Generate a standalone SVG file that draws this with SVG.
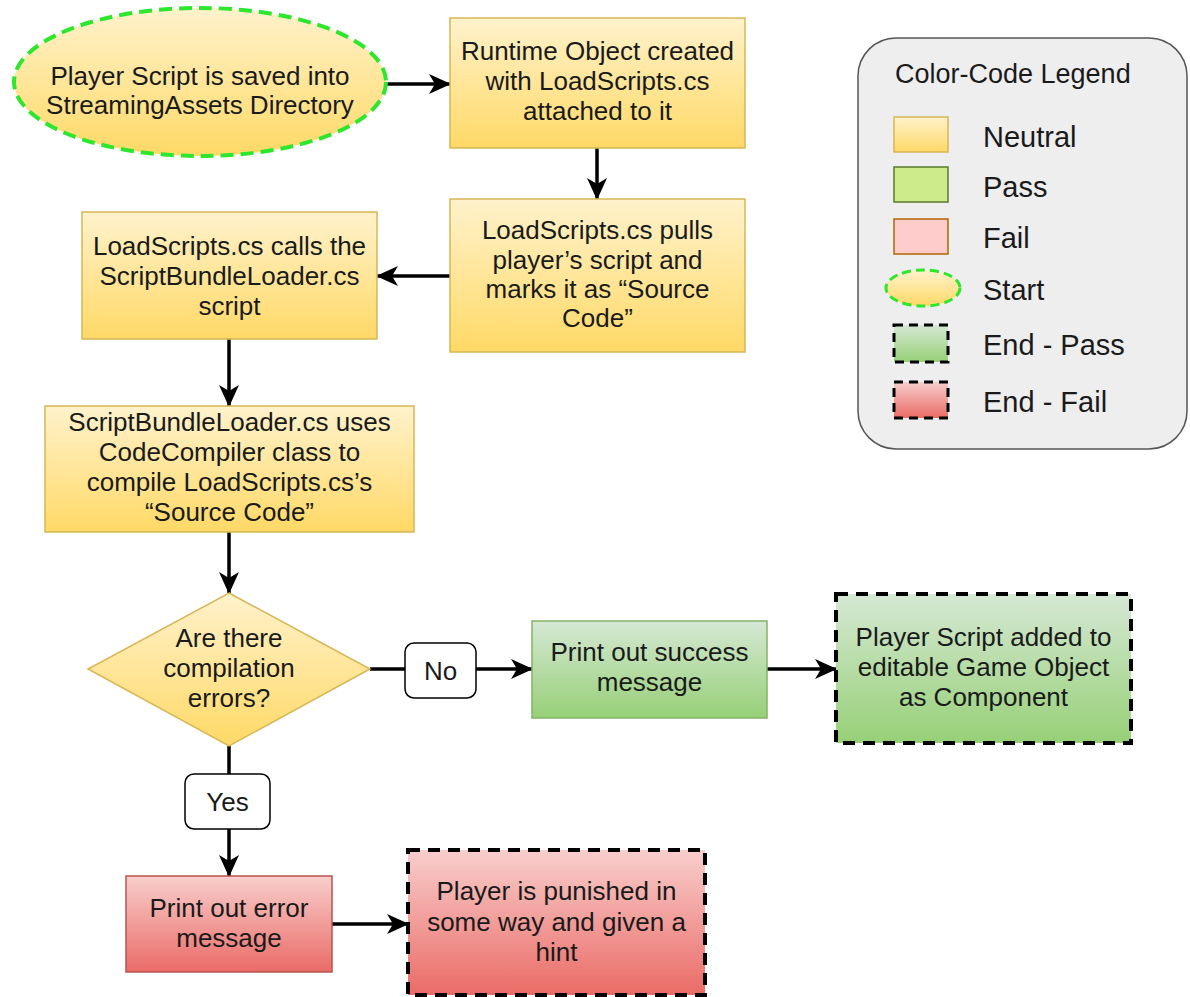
<svg xmlns="http://www.w3.org/2000/svg" width="1190" height="997" viewBox="0 0 1190 997">
  <defs>
    <linearGradient id="gNeutral" x1="0" y1="0" x2="0" y2="1">
      <stop offset="0" stop-color="#fff2cc"/>
      <stop offset="1" stop-color="#ffd966"/>
    </linearGradient>
    <linearGradient id="gPass" x1="0" y1="0" x2="0" y2="1">
      <stop offset="0" stop-color="#d5e8d4"/>
      <stop offset="1" stop-color="#97d077"/>
    </linearGradient>
    <linearGradient id="gFail" x1="0" y1="0" x2="0" y2="1">
      <stop offset="0" stop-color="#f8cecc"/>
      <stop offset="1" stop-color="#ea6b66"/>
    </linearGradient>
    <marker id="arrow" markerUnits="userSpaceOnUse" markerWidth="22" markerHeight="22" viewBox="0 0 22 22" refX="21" refY="11" orient="auto">
      <path d="M0,1 L22,11 L0,21 L6,11 Z" fill="#000"/>
    </marker>
    <style>
      text { font-family: "Liberation Sans", Arial, sans-serif; font-size: 26px; fill: #1a1a1a; text-anchor: middle; }
      .neutral { fill: url(#gNeutral); stroke: #d6b656; stroke-width: 1.5; }
      .pass { fill: url(#gPass); stroke: #82b366; stroke-width: 1.5; }
      .fail { fill: url(#gFail); stroke: #b85450; stroke-width: 1.5; }
      .endline { fill: none; stroke: #000; stroke-width: 4; stroke-dasharray: 12 8; }
      .start { stroke: #2ee62e; stroke-width: 4; stroke-dasharray: 13 7; }
      .label { fill: #fff; stroke: #000; stroke-width: 1.5; }
      .conn { fill: none; stroke: #000; stroke-width: 3.5; }
      .legend text { text-anchor: start; }
    </style>
  </defs>

  <!-- connectors -->
  <g id="connectors">
    <line class="conn" x1="386" y1="84" x2="450" y2="84" marker-end="url(#arrow)"/>
    <line class="conn" x1="597" y1="148" x2="597" y2="199" marker-end="url(#arrow)"/>
    <line class="conn" x1="450" y1="276" x2="377" y2="276" marker-end="url(#arrow)"/>
    <line class="conn" x1="229" y1="339" x2="229" y2="406" marker-end="url(#arrow)"/>
    <line class="conn" x1="229" y1="532" x2="229" y2="593" marker-end="url(#arrow)"/>
    <line class="conn" x1="370" y1="669" x2="405" y2="669"/>
    <line class="conn" x1="476" y1="669" x2="532" y2="669" marker-end="url(#arrow)"/>
    <line class="conn" x1="767" y1="669" x2="836" y2="669" marker-end="url(#arrow)"/>
    <line class="conn" x1="229" y1="746" x2="229" y2="774"/>
    <line class="conn" x1="229" y1="829" x2="229" y2="876" marker-end="url(#arrow)"/>
    <line class="conn" x1="332" y1="924" x2="408" y2="924" marker-end="url(#arrow)"/>
  </g>

  <!-- start -->
  <g id="start">
    <ellipse cx="200" cy="82" rx="186" ry="74" fill="url(#gNeutral)" class="start"/>
    <text x="200" y="85">Player Script is saved into</text>
    <text x="200" y="114">StreamingAssets Directory</text>
  </g>

  <g id="runtime-object">
    <rect class="neutral" x="450" y="18" width="295" height="130"/>
    <text x="597.5" y="60">Runtime Object created</text>
    <text x="597.5" y="90">with LoadScripts.cs</text>
    <text x="597.5" y="120">attached to it</text>
  </g>

  <g id="pull-script">
    <rect class="neutral" x="450" y="199" width="295" height="153"/>
    <text x="597.5" y="239">LoadScripts.cs pulls</text>
    <text x="597.5" y="269">player’s script and</text>
    <text x="597.5" y="298">marks it as “Source</text>
    <text x="597.5" y="327">Code”</text>
  </g>

  <g id="call-loader">
    <rect class="neutral" x="82" y="212" width="295" height="127"/>
    <text x="229.5" y="255">LoadScripts.cs calls the</text>
    <text x="229.5" y="285">ScriptBundleLoader.cs</text>
    <text x="229.5" y="315">script</text>
  </g>

  <g id="compile">
    <rect class="neutral" x="45" y="406" width="369" height="126"/>
    <text x="229.5" y="431">ScriptBundleLoader.cs uses</text>
    <text x="229.5" y="461">CodeCompiler class to</text>
    <text x="229.5" y="491">compile LoadScripts.cs’s</text>
    <text x="229.5" y="521">“Source Code”</text>
  </g>

  <g id="decision">
    <polygon class="neutral" points="229,593 370,669 229,746 88,669"/>
    <text x="229" y="647">Are there</text>
    <text x="229" y="677">compilation</text>
    <text x="229" y="707">errors?</text>
  </g>

  <g id="label-no">
    <rect class="label" x="405" y="643" width="71" height="55" rx="9"/>
    <text x="440.5" y="680">No</text>
  </g>

  <g id="label-yes">
    <rect class="label" x="185" y="774" width="85" height="55" rx="9"/>
    <text x="227.5" y="811">Yes</text>
  </g>

  <g id="success">
    <rect class="pass" x="532" y="621" width="235" height="97"/>
    <text x="649.5" y="661">Print out success</text>
    <text x="649.5" y="691">message</text>
  </g>

  <g id="end-pass">
    <rect x="836" y="594" width="295" height="149" fill="url(#gPass)"/>
    <rect class="endline" x="836" y="594" width="295" height="149"/>
    <text x="983.5" y="646">Player Script added to</text>
    <text x="983.5" y="676">editable Game Object</text>
    <text x="983.5" y="706">as Component</text>
  </g>

  <g id="error">
    <rect class="fail" x="126" y="876" width="206" height="96"/>
    <text x="229" y="917">Print out error</text>
    <text x="229" y="947">message</text>
  </g>

  <g id="end-fail">
    <rect x="408" y="850" width="297" height="145" fill="url(#gFail)"/>
    <rect class="endline" x="408" y="850" width="297" height="145"/>
    <text x="556.5" y="900">Player is punished in</text>
    <text x="556.5" y="931">some way and given a</text>
    <text x="556.5" y="961">hint</text>
  </g>

  <!-- legend -->
  <g id="legend" class="legend">
    <rect x="858" y="38" width="329" height="411" rx="38" fill="#eeeeee" stroke="#555" stroke-width="1.5"/>
    <text x="895" y="83" style="font-size:27px">Color-Code Legend</text>
    <rect class="neutral" x="894" y="117" width="54" height="35"/>
    <text x="983" y="147" style="font-size:29px">Neutral</text>
    <rect x="894" y="167" width="54" height="35" fill="#cdeb8b" stroke="#5a7a2e" stroke-width="1.5"/>
    <text x="983" y="197" style="font-size:29px">Pass</text>
    <rect x="894" y="219" width="54" height="35" fill="#ffcccc" stroke="#b46504" stroke-width="1.5"/>
    <text x="983" y="248" style="font-size:29px">Fail</text>
    <ellipse cx="923" cy="288" rx="37" ry="18" fill="url(#gNeutral)" stroke="#2ee62e" stroke-width="3" stroke-dasharray="9 5"/>
    <text x="983" y="300" style="font-size:29px">Start</text>
    <rect x="894" y="325" width="54" height="37" fill="url(#gPass)"/>
    <rect x="894" y="325" width="54" height="37" fill="none" stroke="#000" stroke-width="3" stroke-dasharray="9 6"/>
    <text x="983" y="355" style="font-size:29px">End - Pass</text>
    <rect x="894" y="382" width="54" height="36" fill="url(#gFail)"/>
    <rect x="894" y="382" width="54" height="36" fill="none" stroke="#000" stroke-width="3" stroke-dasharray="9 6"/>
    <text x="983" y="412" style="font-size:29px">End - Fail</text>
  </g>
</svg>
